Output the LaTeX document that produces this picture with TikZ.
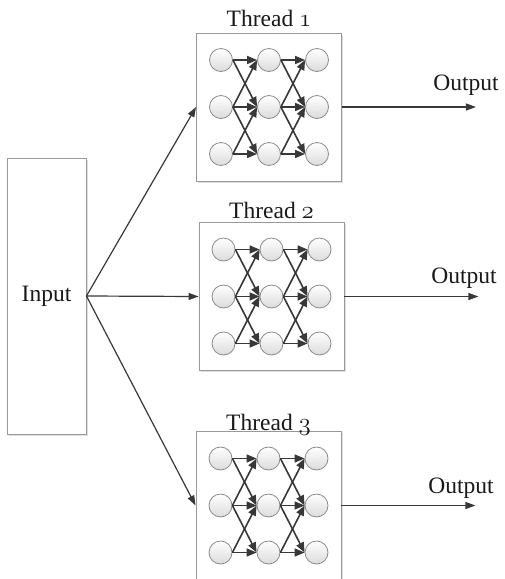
\documentclass[tikz,border=0pt]{standalone}
\usepackage{fontspec}
\setmainfont{Liberation Serif}
\usetikzlibrary{arrows.meta,shadows,calc}
\newcommand\osnum[1]{\(\mathnormal{#1}\)}
\begin{document}
\begin{tikzpicture}[x=1pt,y=-1pt,
  frame/.style={draw=black!40, line width=0.9pt, fill=white,
    drop shadow={opacity=0.25,shadow xshift=1.5pt,shadow yshift=-1.5pt}},
  neuron/.style={circle, draw=black!45, line width=0.8pt, minimum size=23pt,
    inner sep=0pt, top color=white, bottom color=black!14},
  link/.style={draw=black!78, line width=1.6pt, -{Triangle[length=10pt,width=8pt]}},
  flow/.style={draw=black!78, line width=1.2pt, -{Triangle[length=10pt,width=7pt]}},
  lab/.style={font=\fontsize{23.5}{26}\selectfont, inner sep=0pt, text=black!90}
]
\useasboundingbox (0,0) rectangle (504,579);

\node[frame, minimum width=79pt, minimum height=276pt, lab] (in) at (46.5,296) {Input};

\foreach \t/\cx/\cy/\ty/\ox/\oy in {1/269/107/26/466/90, 2/271.5/296.5/218/464/283, 3/268.5/505.5/430/461/493}{
  \node[frame, minimum width=145pt, minimum height=148pt] (t\t) at (\cx,\cy) {};
  \node[lab, anchor=base] (h\t) at (\cx,\ty) {Thread \osnum{\t}};
  \foreach \c in {0,1,2}{
    \foreach \r in {0,1,2}{
      \node[neuron] (n\t-\c-\r) at ({\cx+48*(\c-1)},{\cy+47*(\r-1)}) {};
    }
  }
  \foreach \c/\d in {0/1,1/2}{
    \foreach \r/\s in {0/0,0/1,1/0,1/1,1/2,2/1,2/2}{
      \draw[link] (n\t-\c-\r.east) -- (n\t-\d-\s.west);
    }
  }
  \draw[flow] (in.east) -- (t\t.west);
  \draw[flow] (t\t.east) -- ++(134,0) coordinate (o\t);
  \node[lab, anchor=base] (ol\t) at (\ox,\oy) {Output};
}
\end{tikzpicture}
\end{document}
